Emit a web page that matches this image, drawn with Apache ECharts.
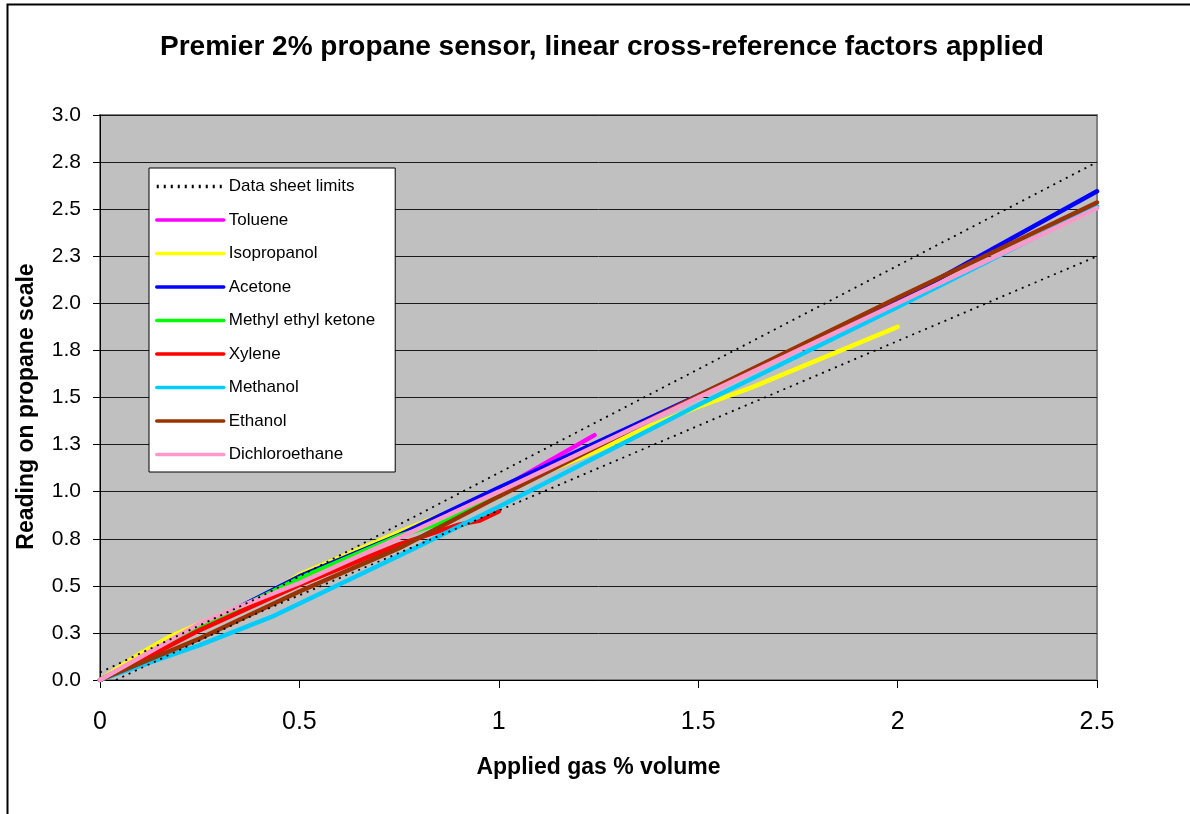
<!DOCTYPE html>
<html>
<head>
<meta charset="utf-8">
<script src="https://cdn.jsdelivr.net/npm/echarts@6/dist/echarts.min.js"></script>
<style>
html,body{margin:0;padding:0;background:#fff;}
#chart{width:1190px;height:814px;}
</style>
</head>
<body>
<div id="chart"></div>
<script>
// ---- data (x = applied gas % volume, y = reading on propane scale) ----
const titleText = 'Premier 2% propane sensor, linear cross-reference factors applied';
const xName = 'Applied gas % volume';
const yName = 'Reading on propane scale';
const seriesNames = ['Data sheet limits','Toluene','Isopropanol','Acetone','Methyl ethyl ketone','Xylene','Methanol','Ethanol','Dichloroethane'];
const seriesColors = ['#000000','#FF00FF','#FFFF00','#0000FF','#00FF00','#FF0000','#00CCFF','#993300','#FF99CC'];

const limitUpper = [[0,0.04],[0.4,0.44],[2.5,2.75]];
const limitLower = [[0.04,0],[0.4,0.36],[2.5,2.25]];
const toluene = [[0,0],[0.25,0.27],[0.5,0.535],[0.75,0.77],[1.0,1.01],[1.24,1.3]];
const isopropanol = [[0,0],[0.1,0.14],[0.17,0.225],[0.25,0.3],[0.41,0.44],[0.5,0.56],[0.75,0.785],[1.0,1.0],[1.25,1.22],[1.38,1.35],[1.5,1.45],[1.63,1.55],[2.0,1.875]];
const acetone = [[0,0],[0.25,0.28],[0.5,0.55],[0.75,0.77],[1.0,1.02],[1.5,1.51],[2.0,2.01],[2.5,2.595]];
const mek = [[0,0],[0.25,0.28],[0.5,0.54],[0.75,0.765],[0.85,0.83],[1.0,0.975]];
const xylene = [[0,0],[0.1,0.1],[0.25,0.265],[0.5,0.505],[0.75,0.72],[0.9,0.825],[0.95,0.845],[1.0,0.895]];
const methanol = [[0,0],[0.25,0.185],[0.43,0.335],[0.78,0.69],[1.0,0.92],[1.5,1.46],[2.0,1.98],[2.5,2.515]];
const ethanol = [[0,0],[0.25,0.22],[0.5,0.47],[0.75,0.70],[1.0,0.975],[1.5,1.51],[2.0,2.03],[2.5,2.535]];
const dichloroethane = [[0,0],[0.25,0.3],[0.35,0.39],[0.5,0.515],[0.75,0.755],[1.0,1.0],[1.5,1.5],[2.0,2.0],[2.5,2.505]];

const seriesData = [toluene, isopropanol, acetone, mek, xylene, methanol, ethanol, dichloroethane];

const FONT = '"Liberation Sans", Arial, sans-serif';

const series = [];
[limitUpper, limitLower].forEach(function(d){
  series.push({
    name: seriesNames[0], type: 'line', data: d, symbol: 'none', showSymbol: false,
    lineStyle: {color: '#000', width: 1.8, type: [2, 5]}, itemStyle: {color: '#000'},
    z: 3, silent: true
  });
});
seriesData.forEach(function(d, i){
  series.push({
    name: seriesNames[i+1], type: 'line', data: d, symbol: 'none', showSymbol: false,
    lineStyle: {color: seriesColors[i+1], width: 4.5, cap: 'round'}, itemStyle: {color: seriesColors[i+1]},
    z: 2, silent: true
  });
});

const chart = echarts.init(document.getElementById('chart'), null, {renderer: 'canvas'});
chart.setOption({
  animation: false,
  backgroundColor: '#ffffff',
  title: {
    text: titleText, left: 597, top: 28, textAlign: 'center',
    textStyle: {fontFamily: FONT, fontSize: 28, fontWeight: 'bold', color: '#000'}
  },
  graphic: [{
    type: 'rect', left: 5, top: 2, silent: true,
    shape: {width: 1250, height: 900},
    style: {fill: 'none', stroke: '#000', lineWidth: 2}
  }],
  legend: {
    data: seriesNames,
    orient: 'vertical', left: 149, top: 168,
    backgroundColor: '#ffffff', borderColor: '#000', borderWidth: 1,
    padding: [10, 20, 9, 6],
    itemWidth: 67, itemHeight: 14, itemGap: 16.5,
    itemStyle: {opacity: 0},
    lineStyle: {width: 3.5},
    textStyle: {fontFamily: FONT, fontSize: 17, color: '#000'},
    selectedMode: false
  },
  grid: {
    left: 100, right: 93, top: 115, bottom: 134,
    show: true, backgroundColor: '#C0C0C0', borderColor: '#808080', borderWidth: 2
  },
  xAxis: {
    type: 'value', min: 0, max: 2.5, interval: 0.5,
    name: xName, nameLocation: 'middle', nameGap: 76,
    nameTextStyle: {fontFamily: FONT, fontSize: 23, fontWeight: 'bold', color: '#000'},
    axisLine: {show: true, onZero: false, lineStyle: {color: '#000', width: 1}},
    axisTick: {show: true, inside: false, length: 8, lineStyle: {color: '#000'}},
    axisLabel: {fontFamily: FONT, fontSize: 25, color: '#000', margin: 30},
    splitLine: {show: false}
  },
  yAxis: {
    type: 'value', min: 0, max: 3, interval: 0.25,
    name: yName, nameLocation: 'middle', nameGap: 62, nameRotate: 90,
    nameTextStyle: {fontFamily: FONT, fontSize: 23, fontWeight: 'bold', color: '#000', padding: [0, 18, 0, 0]},
    axisLine: {show: true, lineStyle: {color: '#000', width: 1}},
    axisTick: {show: true, inside: false, length: 7, lineStyle: {color: '#000'}},
    axisLabel: {fontFamily: FONT, fontSize: 21, color: '#000', margin: 19,
      formatter: function(v){ return v.toFixed(1); }},
    splitLine: {show: true, lineStyle: {color: '#1a1a1a', width: 1}}
  },
  series: series
});
</script>
</body>
</html>
